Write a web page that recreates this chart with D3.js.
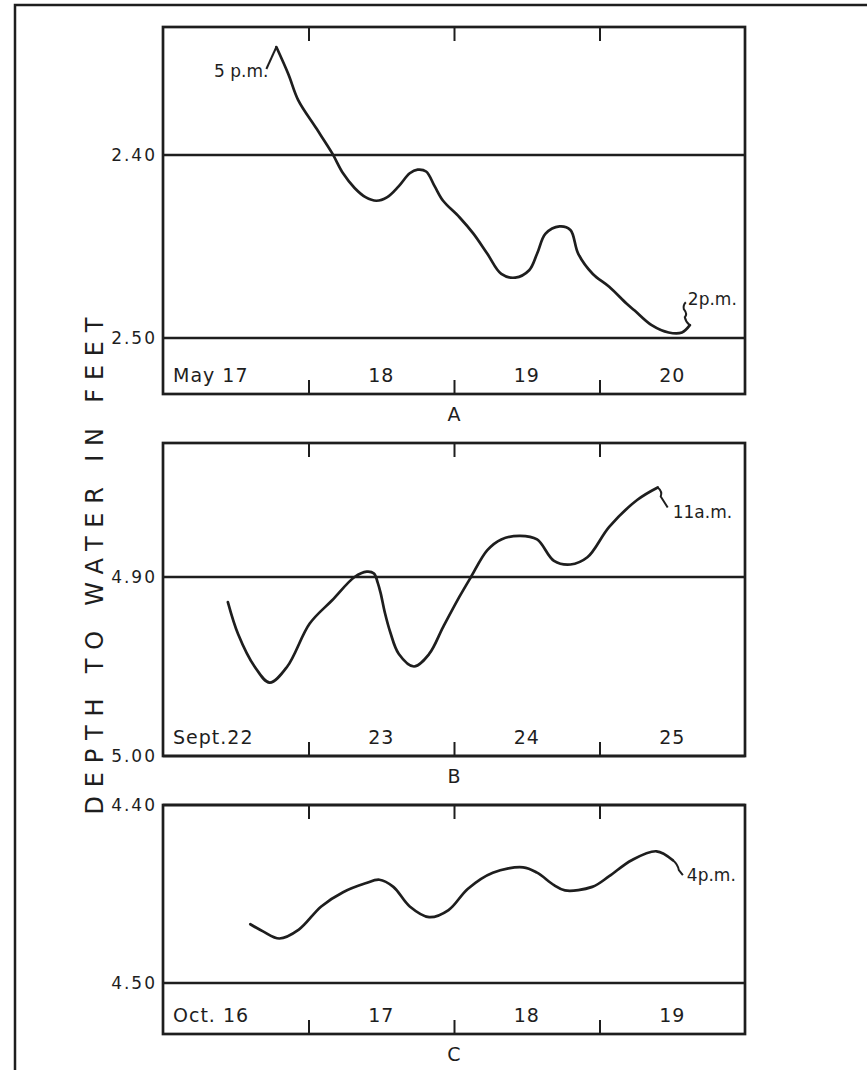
<!DOCTYPE html>
<html lang="en">
<head>
  <meta charset="UTF-8">
  <title>Depth to water, three records</title>
  <script src="https://d3js.org/d3.v7.min.js"></script>
  <style>
    body { margin: 0; background: #fff; }
    svg { display: block; font-family: "DejaVu Sans", sans-serif; }
    text { fill: #1e1e1e; }
  </style>
</head>
<body>
  <svg width="867" height="1070"></svg>

  <script>
    // hours after midnight of the first day shown, depth in feet
    const hoursA = [18.7, 20.7, 22.3, 25.2, 27.9, 29.7, 31.6, 33.4, 35.2, 37.0, 38.9, 40.7, 42.0, 43.4, 44.8, 46.2, 48.9, 51.2, 53.5, 55.8, 58.1, 60.4, 61.7, 63.1, 65.4, 67.2, 68.5, 70.9, 73.6, 76.4, 77.8, 80.6, 83.4, 85.6, 86.9];
    const depthA = [2.341, 2.356, 2.370, 2.385, 2.399, 2.410, 2.418, 2.423, 2.425, 2.423, 2.417, 2.410, 2.408, 2.409, 2.417, 2.425, 2.434, 2.443, 2.454, 2.465, 2.467, 2.463, 2.454, 2.443, 2.439, 2.441, 2.454, 2.465, 2.472, 2.481, 2.485, 2.493, 2.497, 2.497, 2.493];
    const daysA = ["May 17", "18", "19", "20"];
    const ticksA = [2.40, 2.50];

    const hoursB = [10.7, 12.4, 15.1, 17.6, 20.5, 24.2, 27.9, 31.6, 33.6, 34.8, 35.4, 35.9, 36.6, 37.5, 38.9, 41.4, 43.9, 46.2, 48.9, 50.8, 53.5, 55.8, 58.9, 61.7, 64.5, 67.2, 70.0, 73.6, 78.2, 81.6];
    const depthB = [4.914, 4.932, 4.950, 4.959, 4.950, 4.926, 4.913, 4.900, 4.897, 4.898, 4.903, 4.909, 4.920, 4.931, 4.943, 4.950, 4.943, 4.928, 4.911, 4.900, 4.885, 4.879, 4.877, 4.879, 4.891, 4.893, 4.889, 4.872, 4.857, 4.850];
    const daysB = ["Sept.22", "23", "24", "25"];
    const ticksB = [4.90, 5.00];

    const hoursC = [14.4, 16.5, 19.2, 22.4, 26.1, 29.7, 33.4, 35.7, 38.0, 40.7, 43.9, 47.1, 50.3, 54.4, 59.4, 61.7, 64.5, 66.3, 70.8, 73.6, 77.3, 81.4, 84.1];
    const depthC = [4.467, 4.471, 4.475, 4.470, 4.457, 4.449, 4.444, 4.442, 4.446, 4.457, 4.463, 4.459, 4.447, 4.438, 4.435, 4.438, 4.445, 4.448, 4.446, 4.440, 4.431, 4.426, 4.431];
    const daysC = ["Oct. 16", "17", "18", "19"];
    const ticksC = [4.40, 4.50];

    const panelNames = ["A", "B", "C"];
    const startNotes = ["5 p.m.", "", ""];
    const endNotes = ["2p.m.", "11a.m.", "4p.m."];
    const dayBreaks = [24, 48, 72];

    const svg = d3.select("svg");
    const ink = "#1e1e1e";

    // outer frame of the scan
    svg.append("path")
      .attr("d", "M15,1070 V5 H867")
      .attr("fill", "none")
      .attr("stroke", ink)
      .attr("stroke-width", 2.5);

    const x = d3.scaleLinear().domain([0, 96]).range([163, 745]);

    const panels = [
      { hours: hoursA, depth: depthA, days: daysA, ticks: ticksA, top: 27, bottom: 394, y0: 155, y1: 338 },
      { hours: hoursB, depth: depthB, days: daysB, ticks: ticksB, top: 443, bottom: 756, y0: 577, y1: 756 },
      { hours: hoursC, depth: depthC, days: daysC, ticks: ticksC, top: 805, bottom: 1034, y0: 805, y1: 983 }
    ];

    panels.forEach((p, i) => {
      const y = d3.scaleLinear().domain(p.ticks).range([p.y0, p.y1]);
      const g = svg.append("g");

      // frame
      g.append("rect")
        .attr("x", x(0)).attr("y", p.top)
        .attr("width", x(96) - x(0)).attr("height", p.bottom - p.top)
        .attr("fill", "none").attr("stroke", ink).attr("stroke-width", 2.7);

      // horizontal reference lines
      g.selectAll(".grid")
        .data(p.ticks)
        .enter()
        .append("line")
        .attr("x1", x(0)).attr("x2", x(96))
        .attr("y1", d => y(d)).attr("y2", d => y(d))
        .attr("stroke", ink).attr("stroke-width", 2.4);

      // y labels
      const yAxis = g.append("g")
        .attr("transform", `translate(${x(0)},0)`)
        .call(d3.axisLeft(y).tickValues(p.ticks).tickSize(0).tickPadding(6).tickFormat(d3.format(".2f")));
      yAxis.select(".domain").remove();
      yAxis.selectAll("text")
        .attr("font-size", 17).attr("letter-spacing", 2)
        .attr("font-family", "DejaVu Sans").attr("fill", ink);

      // day ticks, inward from top and bottom
      const topAxis = g.append("g")
        .attr("transform", `translate(0,${p.top})`)
        .call(d3.axisTop(x).tickValues(dayBreaks).tickSize(-14).tickFormat(""));
      const botAxis = g.append("g")
        .attr("transform", `translate(0,${p.bottom})`)
        .call(d3.axisBottom(x).tickValues(dayBreaks).tickSize(-14).tickFormat(""));
      [topAxis, botAxis].forEach(a => {
        a.select(".domain").remove();
        a.selectAll("line").attr("stroke", ink).attr("stroke-width", 2);
      });

      // day labels
      g.selectAll(".day")
        .data(p.days)
        .enter()
        .append("text")
        .attr("x", (d, j) => j === 0 ? x(0) + 10 : x(j * 24 + 12))
        .attr("y", p.bottom - 12)
        .attr("text-anchor", (d, j) => j === 0 ? "start" : "middle")
        .attr("font-size", 19).attr("letter-spacing", 1)
        .text(d => d);

      // panel letter
      g.append("text")
        .attr("x", x(48)).attr("y", p.bottom + 27)
        .attr("text-anchor", "middle")
        .attr("font-size", 19)
        .text(panelNames[i]);

      // record
      const pts = p.hours.map((h, j) => [x(h), y(p.depth[j])]);
      g.append("path")
        .attr("d", d3.line().curve(d3.curveCatmullRom.alpha(0.5))(pts))
        .attr("fill", "none").attr("stroke", ink)
        .attr("stroke-width", 2.7).attr("stroke-linejoin", "round").attr("stroke-linecap", "round");

      // time notes with leaders
      const first = pts[0];
      const last = pts[pts.length - 1];
      if (startNotes[i]) {
        g.append("path")
          .attr("d", `M${first[0]},${first[1]} L${first[0] - 10},${first[1] + 22}`)
          .attr("fill", "none").attr("stroke", ink).attr("stroke-width", 2);
        g.append("text")
          .attr("x", first[0] - 8).attr("y", first[1] + 30)
          .attr("text-anchor", "end").attr("font-size", 17)
          .text(startNotes[i]);
      }
      const lead = [
        `M${last[0]},${last[1]} q-4,-3 -5,-8 q3,-3 -1,-8 q-1,-4 2,-7`,
        `M${last[0]},${last[1]} q5,4 3,9 l7,11`,
        `M${last[0]},${last[1]} q5,4 6,10 l4,5`
      ][i];
      g.append("path")
        .attr("d", lead)
        .attr("fill", "none").attr("stroke", ink).attr("stroke-width", 2);
      const noteX = [last[0] - 2, last[0] + 15, last[0] + 14][i];
      const noteY = [last[1] - 20, last[1] + 30, last[1] + 21][i];
      g.append("text")
        .attr("x", noteX).attr("y", noteY)
        .attr("font-size", 17)
        .text(endNotes[i]);
    });

    // shared vertical title
    svg.append("text")
      .attr("transform", "translate(103,566) rotate(-90)")
      .attr("text-anchor", "middle")
      .attr("font-size", 24)
      .attr("textLength", 497)
      .attr("lengthAdjust", "spacing")
      .text("DEPTH TO WATER IN FEET");
  </script>
</body>
</html>
